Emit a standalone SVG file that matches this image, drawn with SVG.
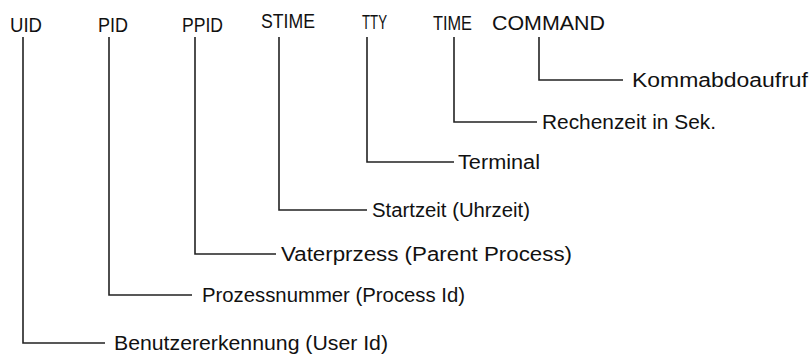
<svg xmlns="http://www.w3.org/2000/svg" width="812" height="356" viewBox="0 0 812 356">
<style>
text { font-family: "Liberation Sans", Arial, sans-serif; font-size: 20px; fill: #111; }
.c { fill: none; stroke: #222; stroke-width: 1.6; }
</style>
<rect width="812" height="356" fill="#fff"/>
<g id="connectors">
  <polyline class="c" points="23,37 23,343 105,343"/>
  <polyline class="c" points="109,37 109,295 192,295"/>
  <polyline class="c" points="195,37 195,254 276,254"/>
  <polyline class="c" points="279,37 279,210 367,210"/>
  <polyline class="c" points="367,37 367,162 454,162"/>
  <polyline class="c" points="454,37 454,122 537,122"/>
  <polyline class="c" points="539,37 539,80 623,80"/>
</g>
<g id="uid"><text x="10" y="32" textLength="32" lengthAdjust="spacingAndGlyphs">UID</text></g>
<g id="pid"><text x="98" y="32" textLength="30" lengthAdjust="spacingAndGlyphs">PID</text></g>
<g id="ppid"><text x="182" y="32" textLength="41" lengthAdjust="spacingAndGlyphs">PPID</text></g>
<g id="stime"><text x="261" y="28" textLength="54" lengthAdjust="spacingAndGlyphs">STIME</text></g>
<g id="tty"><text x="362" y="29" textLength="25" lengthAdjust="spacingAndGlyphs">TTY</text></g>
<g id="time"><text x="433" y="30" textLength="39" lengthAdjust="spacingAndGlyphs">TIME</text></g>
<g id="command"><text x="492" y="30" textLength="113" lengthAdjust="spacingAndGlyphs">COMMAND</text></g>
<g id="label-command"><text x="632" y="87" textLength="176" lengthAdjust="spacingAndGlyphs">Kommabdoaufruf</text></g>
<g id="label-time"><text x="542" y="129" textLength="174" lengthAdjust="spacingAndGlyphs">Rechenzeit in Sek.</text></g>
<g id="label-tty"><text x="458" y="169" textLength="82" lengthAdjust="spacingAndGlyphs">Terminal</text></g>
<g id="label-stime"><text x="372" y="217" textLength="158" lengthAdjust="spacingAndGlyphs">Startzeit (Uhrzeit)</text></g>
<g id="label-ppid"><text x="281" y="261" textLength="291" lengthAdjust="spacingAndGlyphs">Vaterprzess (Parent Process)</text></g>
<g id="label-pid"><text x="202" y="302" textLength="263" lengthAdjust="spacingAndGlyphs">Prozessnummer (Process Id)</text></g>
<g id="label-uid"><text x="114" y="350" textLength="274" lengthAdjust="spacingAndGlyphs">Benutzererkennung (User Id)</text></g>
</svg>
